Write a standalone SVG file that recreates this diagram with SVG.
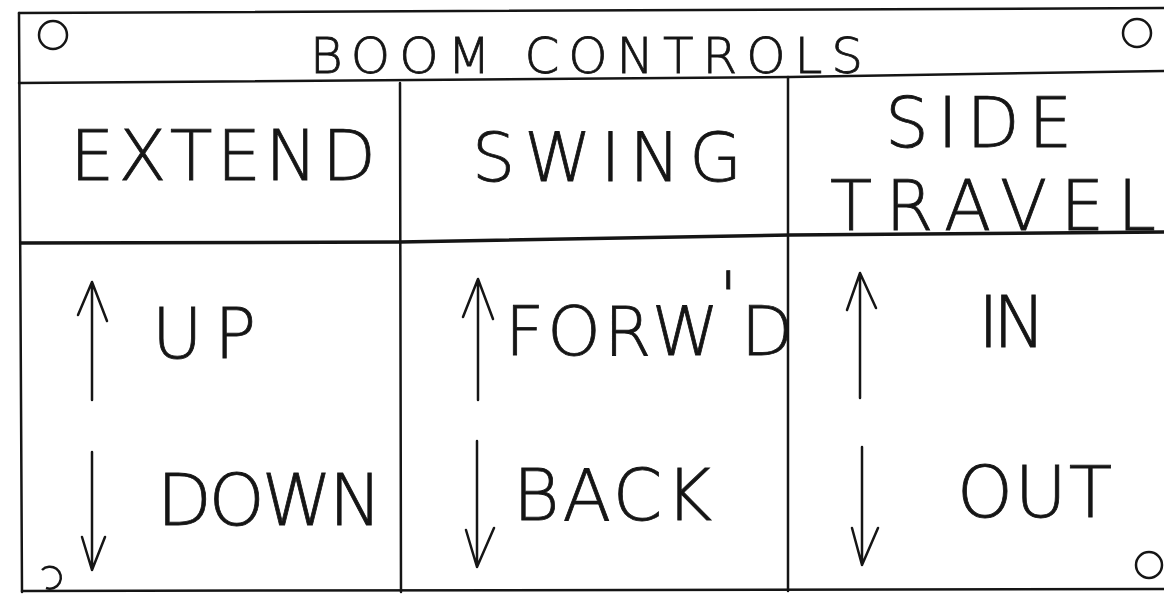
<svg xmlns="http://www.w3.org/2000/svg" width="1164" height="594" viewBox="0 0 1164 594">
<style>
.ln{fill:none;stroke:#151515;stroke-width:2.5;stroke-linecap:round;stroke-linejoin:round}
.hl{fill:none;stroke:#151515;stroke-width:3.5}
.t{font-family:"DejaVu Sans","Liberation Sans",sans-serif;font-weight:200;fill:#151515;stroke:#151515;stroke-width:0.8}
.hole{fill:none;stroke:#151515;stroke-width:2.5}
</style>
<rect width="1164" height="594" fill="#ffffff"/>
<g id="frame">
<path class="ln" d="M19,13 L1164,8"/>
<path class="ln" d="M19,13 L22,592"/>
<path class="ln" d="M22,591 L1164,589"/>
<path class="ln" d="M19,83 L790,77 L1164,71"/>
<path class="hl" d="M19,243 L400,242 L790,235 L1164,232"/>
<path class="ln" d="M400,83 L401,592"/>
<path class="ln" d="M788,77 L788,591"/>
<circle class="hole" cx="53" cy="35" r="14"/>
<circle class="hole" cx="1137" cy="33" r="14"/>
<circle class="hole" cx="1149" cy="565" r="13"/>
<path class="hole" d="M42,570 A11,11 0 1 1 46,588"/>
</g>
<g id="title">
<text class="t" x="310" y="73" font-size="50" textLength="553" lengthAdjust="spacing">BOOM CONTROLS</text>
</g>
<g id="extend">
<text class="t" x="70" y="180" font-size="70" textLength="306" lengthAdjust="spacing">EXTEND</text>
<text class="t" x="152" y="358" font-size="69" textLength="104" lengthAdjust="spacing">UP</text>
<text class="t" x="157" y="525" font-size="71" textLength="225" lengthAdjust="spacing">DOWN</text>
</g>
<g id="swing">
<text class="t" x="472" y="181" font-size="68" textLength="270" lengthAdjust="spacing">SWING</text>
<text class="t" x="505" y="355" font-size="68"><tspan textLength="214" lengthAdjust="spacing">FORW</tspan><tspan x="719" y="320">'</tspan><tspan x="741" y="355">D</tspan></text>
<text class="t" x="513" y="520" font-size="71" textLength="199" lengthAdjust="spacing">BACK</text>
</g>
<g id="side-travel">
<text class="t" x="885" y="147" font-size="69" textLength="187" lengthAdjust="spacing">SIDE</text>
<text class="t" x="830" y="230" font-size="69" textLength="326" lengthAdjust="spacing">TRAVEL</text>
<text class="t" x="978" y="347" font-size="71" textLength="68" lengthAdjust="spacing">IN</text>
<text class="t" x="957" y="517" font-size="71" textLength="155" lengthAdjust="spacing">OUT</text>
</g>
<g id="connectors">
<path class="ln" d="M92,400 L92,282 M78,315 L92,282 L107,321"/>
<path class="ln" d="M92,452 L92,570 M82,537 L92,570 L105,537"/>
<path class="ln" d="M478,400 L478,279 M463,317 L478,279 L493,319"/>
<path class="ln" d="M477,441 L477,567 M466,530 L477,567 L494,528"/>
<path class="ln" d="M860,398 L860,273 M847,310 L860,273 L876,308"/>
<path class="ln" d="M862,447 L862,565 M852,528 L862,565 L878,528"/>
</g>
</svg>
